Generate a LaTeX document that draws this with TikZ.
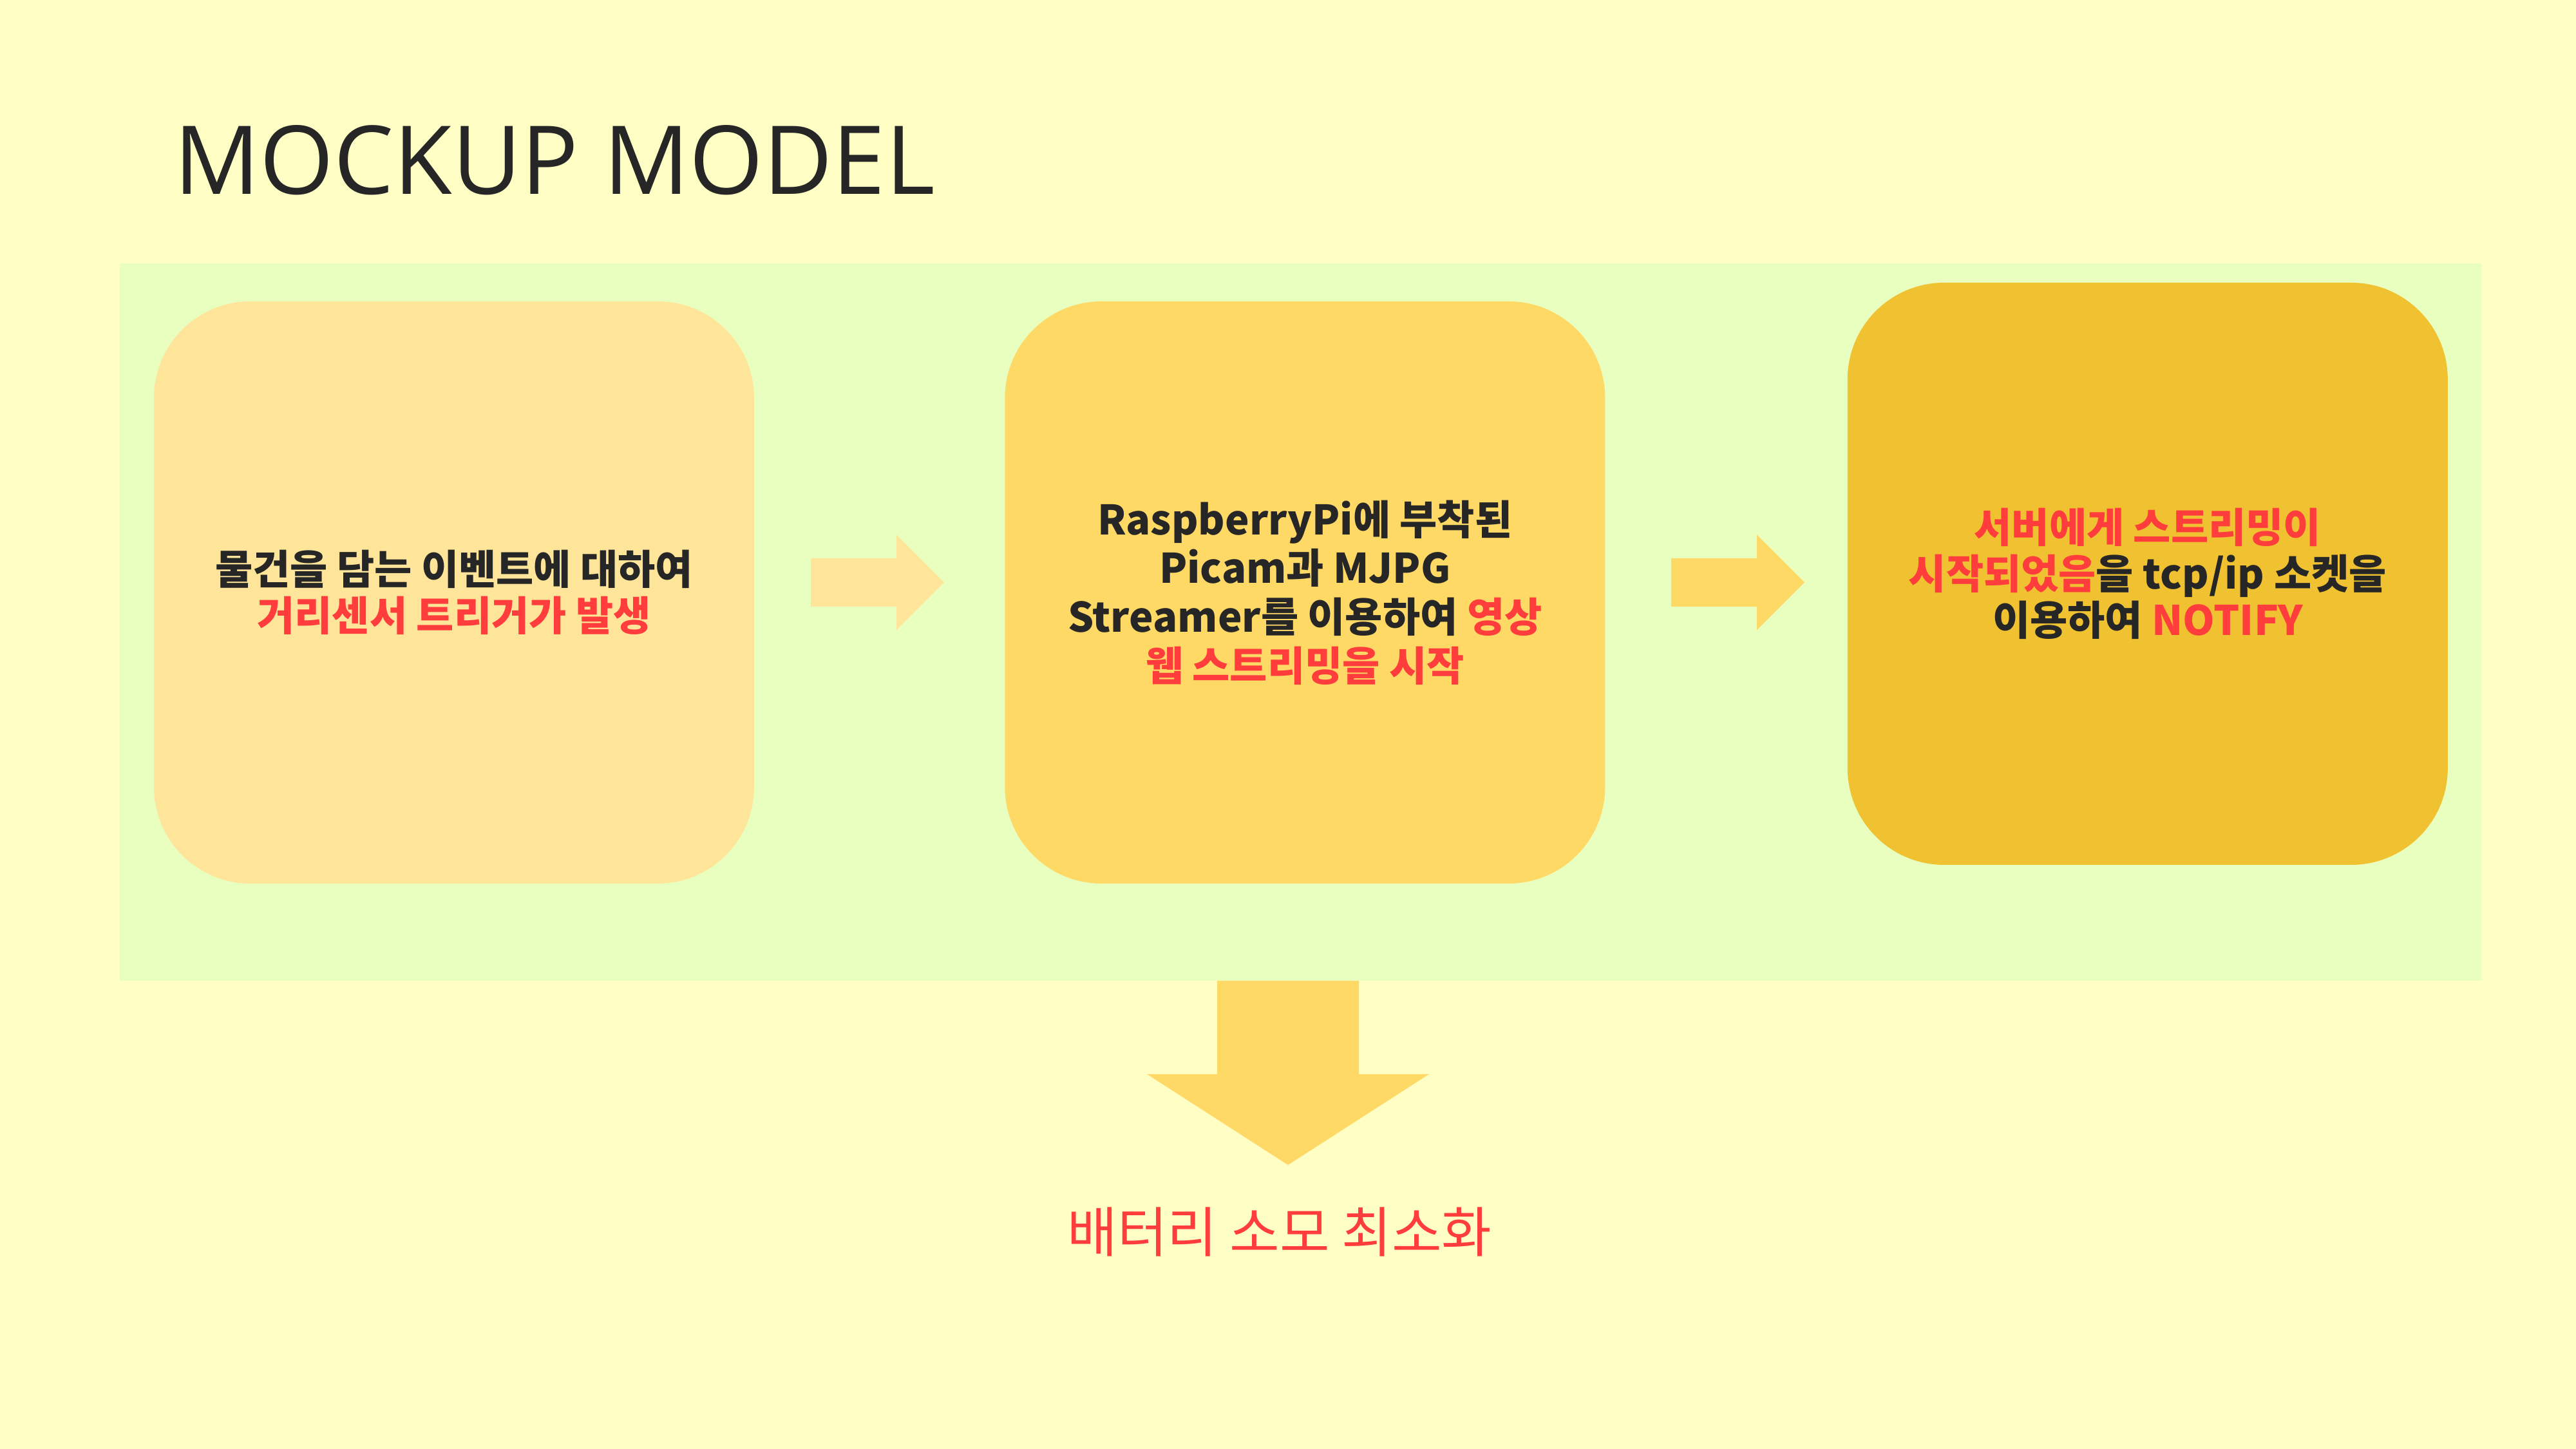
\documentclass[tikz,border=0pt]{standalone}
\usepackage{fontspec}
\setmainfont{Noto Sans CJK KR}
\newfontfamily\titlefont{Open Sans}
\usetikzlibrary{positioning}

\definecolor{bgyellow}{HTML}{FFFFC5}
\definecolor{panelgreen}{HTML}{E9FFC0}
\definecolor{stageone}{HTML}{FFE599}
\definecolor{stagetwo}{HTML}{FFD966}
\definecolor{stagethree}{HTML}{F0C232}
\definecolor{darktext}{HTML}{262626}
\definecolor{hotred}{HTML}{FF3D3D}

\newcommand{\hl}[1]{\textcolor{hotred}{#1}}

\tikzset{
  stage/.style={rounded corners=1.5cm, minimum width=9.32cm, minimum height=9.04cm,
    align=center, text=darktext, font=\fontsize{18}{20.5}\selectfont\bfseries},
}

\begin{document}
\begin{tikzpicture}
  \fill[bgyellow] (0,0) rectangle (40,22.5);
  \useasboundingbox (0,0) rectangle (40,22.5);
  \fill[panelgreen] (1.86,7.27) rectangle (38.53,18.41);

  \node[anchor=base west, text=darktext, font=\titlefont\fontsize{42}{50}\selectfont] (title) at (2.58,19.48) {MOCKUP MODEL};

  % the three stages
  \node[stage, fill=stageone] (sensor) at (7.05,13.30) {물건을 담는 이벤트에 대하여\\\hl{거리센서 트리거가 발생}};
  \node[stage, fill=stagetwo, right=3.88cm of sensor, font=\fontsize{18}{21.5}\selectfont\bfseries] (stream) {RaspberryPi에 부착된\\Picam과 MJPG\\Streamer를 이용하여 \hl{영상}\\\hl{웹 스트리밍을 시작}};
  \node[stage, fill=stagethree, right=3.75cm of stream, yshift=2.9mm] (notify) {\hl{서버에게 스트리밍이}\\\hl{시작되었음}을 tcp/ip 소켓을\\이용하여 \hl{NOTIFY}};

  % block arrows
  \coordinate (a1) at (12.59,13.455);
  \coordinate (a2) at (25.95,13.455);
  \fill[stageone] ([yshift=3.75mm]a1) -- ++(1.33,0) -- ++(0,0.365) -- ++(0.74,-0.74) -- ++(-0.74,-0.74) -- ++(0,0.365) -- ++(-1.33,0) -- cycle;
  \fill[stagetwo] ([yshift=3.75mm]a2) -- ++(1.33,0) -- ++(0,0.365) -- ++(0.74,-0.74) -- ++(-0.74,-0.74) -- ++(0,0.365) -- ++(-1.33,0) -- cycle;

  \coordinate (dn) at (20.00,7.27);
  \fill[stagetwo] ([xshift=-11mm]dn) -- ++(0,-1.45) -- ++(-1.09,0) -- ++(2.19,-1.41) -- ++(2.19,1.41) -- ++(-1.09,0) -- ++(0,1.45) -- cycle;

  \node[text=hotred, font=\fontsize{24}{28}\selectfont] (battery) at (19.87,3.37) {배터리 소모 최소화};
\end{tikzpicture}
\end{document}
